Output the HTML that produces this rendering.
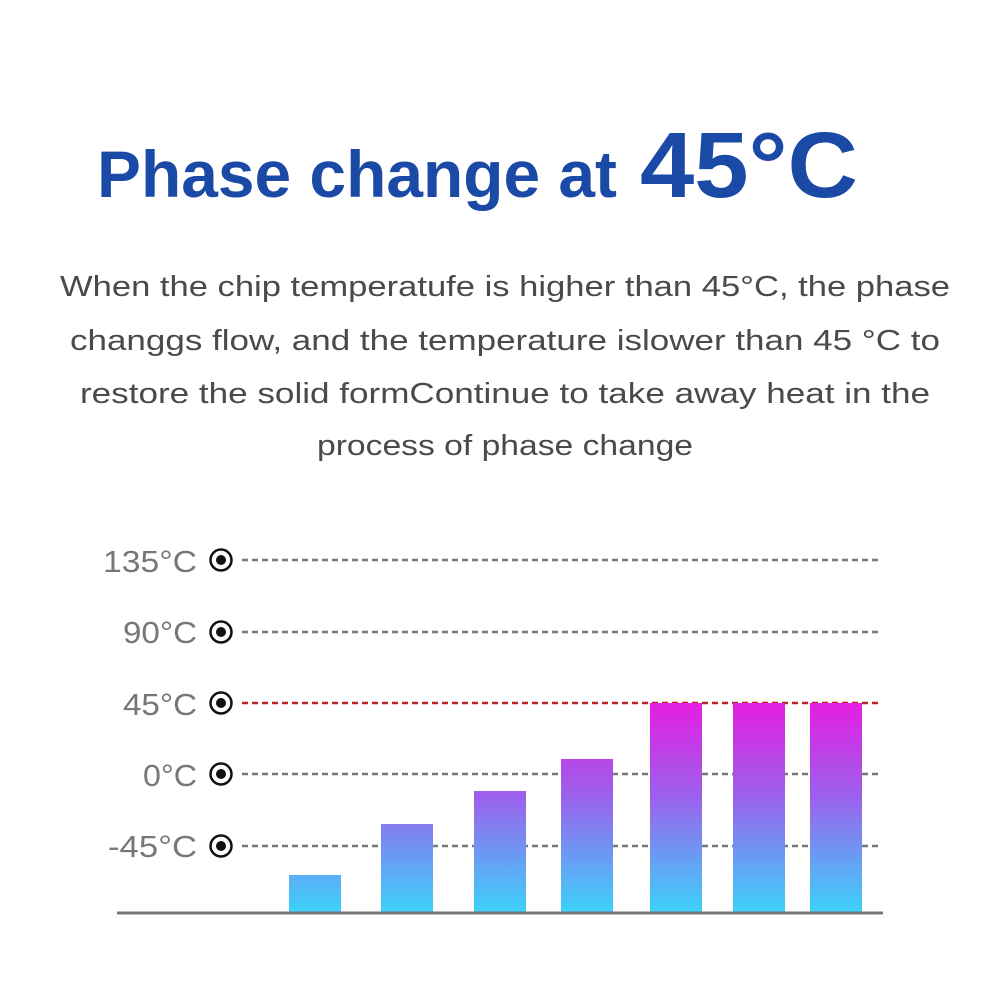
<!DOCTYPE html>
<html><head><meta charset="utf-8"><style>html,body{margin:0;padding:0;background:#fff}svg{display:block}</style></head>
<body>
<svg width="1000" height="1000" viewBox="0 0 1000 1000" xmlns="http://www.w3.org/2000/svg">
<defs>
<linearGradient id="g" gradientUnits="userSpaceOnUse" x1="0" y1="703" x2="0" y2="913">
<stop offset="0" stop-color="#e41ee0"/>
<stop offset="0.45" stop-color="#9a62ec"/>
<stop offset="1" stop-color="#3cd2fa"/>
</linearGradient>
</defs>
<g font-family="Liberation Sans, sans-serif" font-weight="bold" fill="#1a4aa6">
<text x="97" y="197" font-size="66" textLength="520" lengthAdjust="spacingAndGlyphs">Phase change at</text>
<text x="640" y="197" font-size="93" textLength="218" lengthAdjust="spacingAndGlyphs">45°C</text>
</g>
<g font-family="Liberation Sans, sans-serif" font-size="29" fill="#4a4a4a">
<text x="60" y="296" textLength="890" lengthAdjust="spacingAndGlyphs">When the chip temperatufe is higher than 45°C, the phase</text>
<text x="70" y="350" textLength="870" lengthAdjust="spacingAndGlyphs">changgs flow, and the temperature islower than 45 °C to</text>
<text x="80" y="403" textLength="850" lengthAdjust="spacingAndGlyphs">restore the solid formContinue to take away heat in the</text>
<text x="317" y="455" textLength="376" lengthAdjust="spacingAndGlyphs">process of phase change</text>
</g>
<g font-family="Liberation Sans, sans-serif" font-size="31" fill="#777">
<text x="103" y="572" textLength="94" lengthAdjust="spacingAndGlyphs">135°C</text>
<text x="123" y="643" textLength="74" lengthAdjust="spacingAndGlyphs">90°C</text>
<text x="123" y="715" textLength="74" lengthAdjust="spacingAndGlyphs">45°C</text>
<text x="143" y="786" textLength="54" lengthAdjust="spacingAndGlyphs">0°C</text>
<text x="108" y="857" textLength="89" lengthAdjust="spacingAndGlyphs">-45°C</text>
</g>
<g stroke-width="2.5" stroke-dasharray="6,4">
<line x1="242" y1="560" x2="878" y2="560" stroke="#777"/>
<line x1="242" y1="632" x2="878" y2="632" stroke="#777"/>
<line x1="242" y1="703" x2="878" y2="703" stroke="#c02020"/>
<line x1="242" y1="774" x2="878" y2="774" stroke="#777"/>
<line x1="242" y1="846" x2="878" y2="846" stroke="#777"/>
</g>
<g fill="#fff" stroke="#111" stroke-width="2.5">
<circle cx="221" cy="560" r="10.5"/><circle cx="221" cy="632" r="10.5"/><circle cx="221" cy="703" r="10.5"/><circle cx="221" cy="774" r="10.5"/><circle cx="221" cy="846" r="10.5"/>
</g>
<g fill="#111">
<circle cx="221" cy="560" r="5"/><circle cx="221" cy="632" r="5"/><circle cx="221" cy="703" r="5"/><circle cx="221" cy="774" r="5"/><circle cx="221" cy="846" r="5"/>
</g>
<g fill="url(#g)">
<rect x="289" y="875" width="52" height="38"/>
<rect x="381" y="824" width="52" height="89"/>
<rect x="474" y="791" width="52" height="122"/>
<rect x="561" y="759" width="52" height="154"/>
<rect x="650" y="703" width="52" height="210"/>
<rect x="733" y="703" width="52" height="210"/>
<rect x="810" y="703" width="52" height="210"/>
</g>
<line x1="117" y1="913" x2="883" y2="913" stroke="#777" stroke-width="3"/>
</svg>
</body></html>
